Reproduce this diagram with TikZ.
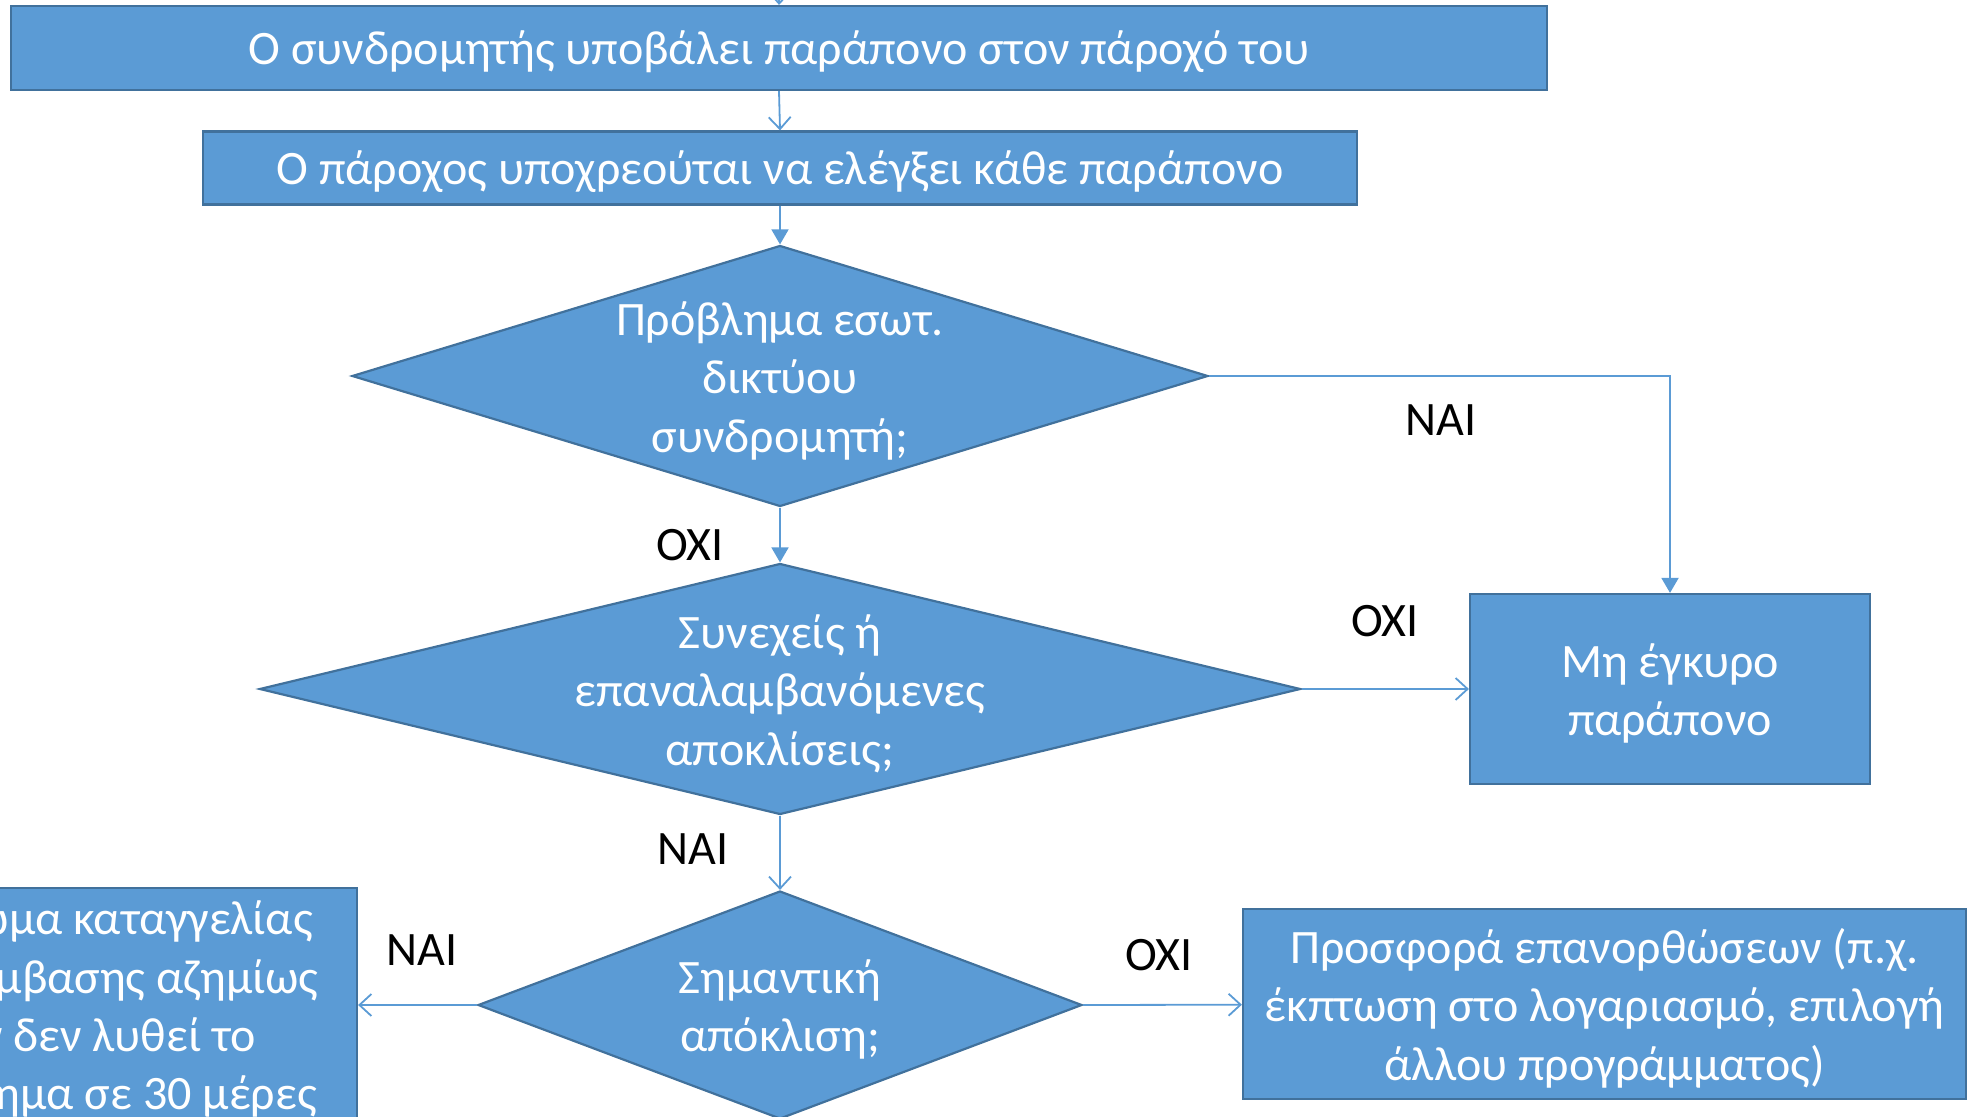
\documentclass[tikz,border=0pt]{standalone}
\usepackage{fontspec}
\setmainfont{Carlito}
\usetikzlibrary{shapes.geometric,arrows.meta}
\definecolor{boxblue}{HTML}{5B9BD5}
\definecolor{edgeblue}{HTML}{41719C}
\newcommand{\lift}{\rule{0pt}{21.5pt}}
\begin{document}
\begin{tikzpicture}[x=0.5pt, y=-0.5pt,
  font=\fontsize{24}{29.2}\selectfont,
  box/.style={draw=edgeblue, line width=1.1pt, fill=boxblue, text=white, align=center, inner sep=0pt},
  oneline/.style={box, text height=20.3pt},
  choice/.style={box, diamond, inner sep=-60pt},
  flow/.style={draw=boxblue, line width=0.9pt},
  openhead/.style={flow, -{Straight Barb[length=6pt,width=11pt]}},
  fullhead/.style={flow, -{Triangle[length=7.5pt,width=8.5pt]}},
  answer/.style={text=black}]
\useasboundingbox (0,0) rectangle (1979,1117);
\clip (0,0) rectangle (1979,1117);

\coordinate (top) at (780,-40);
\node[oneline, minimum width=768pt, minimum height=42pt] (submit) at (779,48) {Ο συνδρομητής υποβάλει παράπονο στον πάροχό του};
\node[oneline, minimum width=577pt, minimum height=36.5pt] (check) at (780,168) {Ο πάροχος υποχρεούται να ελέγξει κάθε παράπονο};
\node[choice, minimum width=428pt, minimum height=130.5pt] (inner) at (780,376) {\lift Πρόβλημα εσωτ.\\δικτύου\\συνδρομητή;};
\node[choice, minimum width=520.5pt, minimum height=125.5pt] (repeat) at (780,689) {\lift Συνεχείς ή\\επαναλαμβανόμενες\\αποκλίσεις;};
\node[choice, minimum width=302pt, minimum height=114pt] (major) at (780,1005) {\lift Σημαντική\\απόκλιση;};
\node[box, minimum width=200pt, minimum height=95pt] (invalid) at (1670,689) {\lift Μη έγκυρο\\παράπονο};
\node[box, minimum width=361.5pt, minimum height=95pt] (remedy) at (1604.5,1004) {\lift Προσφορά επανορθώσεων (π.χ.\\έκπτωση στο λογαριασμό, επιλογή\\άλλου προγράμματος)};
\node[box, minimum width=263pt, minimum height=117pt] (cancel) at (94,1005) {\lift Δικαίωμα καταγγελίας\\της σύμβασης αζημίως\\εάν δεν λυθεί το\\πρόβλημα σε 30 μέρες};

\draw[openhead] (top) -- (submit.north);
\draw[openhead] (submit.south) -- (check.north);
\draw[fullhead] (check.south) -- (inner.north);
\draw[fullhead] (inner.south) -- (repeat.north);
\draw[fullhead] (inner.east) -| (invalid.north);
\draw[openhead] (repeat.east) -- (invalid.west);
\draw[openhead] (repeat.south) -- (major.north);
\draw[openhead] (major.west) -- (cancel.east);
\draw[openhead] (major.east) -- (remedy);

\node[answer] (no1) at (690,545) {ΟΧΙ};
\node[answer] (yes1) at (1441,420) {ΝΑΙ};
\node[answer] (no2) at (1385,621) {ΟΧΙ};
\node[answer] (yes2) at (693,849) {ΝΑΙ};
\node[answer] (yes3) at (422,950) {ΝΑΙ};
\node[answer] (no3) at (1159,955) {ΟΧΙ};
\end{tikzpicture}
\end{document}
